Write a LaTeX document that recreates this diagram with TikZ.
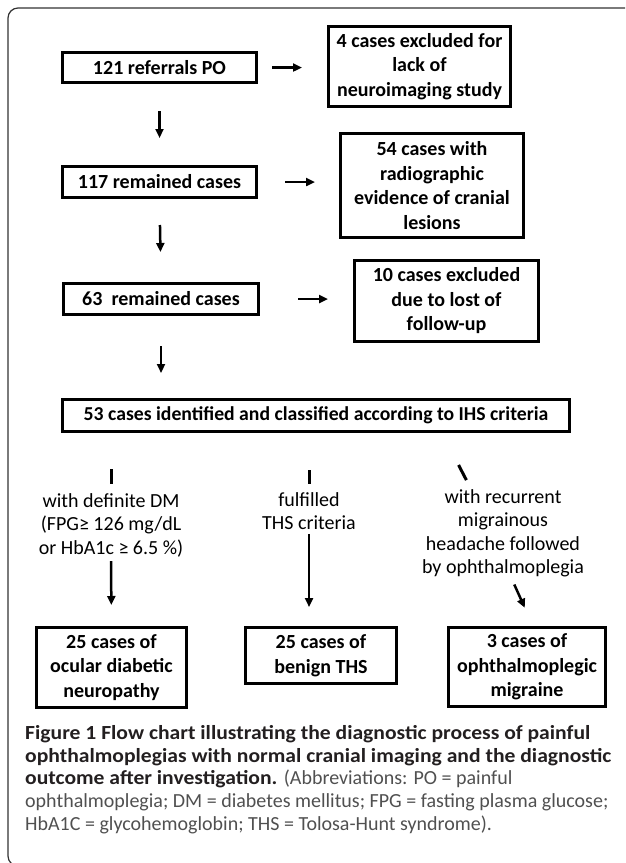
\documentclass[tikz,border=0pt]{standalone}
\usepackage{fontspec}
\setmainfont{Carlito}
\newfontfamily\capfont{Carlito}[FakeStretch=1.08]
\newfontfamily\abbfont{Carlito}
\usetikzlibrary{arrows.meta}
\definecolor{capgray}{HTML}{505050}
\definecolor{capdark}{HTML}{231F20}
\begin{document}
\begin{tikzpicture}[x=1pt,y=-1pt,
	box/.style={draw,line width=3pt,align=center,inner sep=0pt,font=\fontsize{20}{24.5}\selectfont\bfseries},
	lab/.style={align=center,inner sep=0pt,font=\fontsize{20}{23.5}\selectfont},
	arr/.style={line width=2.5pt,-{Triangle[length=9pt,width=8pt]}},
	stub/.style={line width=3pt}]
	\useasboundingbox (0,0) rectangle (625,863);
	\clip (0,0) rectangle (625,863);
	%frame
	\draw[line width=1.2pt,draw=black!80,rounded corners=10pt] (640,8) -- (8,8) -- (8,866) -- (60,866);
	%main column
	\node[box,minimum width=194pt,minimum height=30pt] (po) at (159.5,67.5) {121 referrals PO};
	\node[box,minimum width=194pt,minimum height=31pt] (rem1) at (159.5,182) {117 remained cases};
	\node[box,minimum width=195pt,minimum height=31pt] (rem2) at (161,299) {63~ remained cases};
	\node[box,minimum width=507pt,minimum height=32pt,font=\fontsize{19.7}{24.5}\selectfont\bfseries] (ihs) at (316,415.5) {53 cases identified and classified according to IHS criteria};
	%excluded
	\node[box,minimum width=182pt,minimum height=80pt] (ex1) at (419.5,66.5) {4 cases excluded for\\lack of\\neuroimaging study};
	\node[box,minimum width=183pt,minimum height=104pt] (ex2) at (432,185.5) {54 cases with\\radiographic\\evidence of cranial\\lesions};
	\node[box,minimum width=184pt,minimum height=81pt] (ex3) at (446.5,301) {10 cases excluded\\due to lost of\\follow-up};
	\draw[arr,shorten <=14pt,shorten >=25pt] (po.east) -- (po.east -| ex1.west);
	\draw[arr,shorten <=27pt,shorten >=24pt] (rem1.east) -- (rem1.east -| ex2.west);
	\draw[arr,shorten <=38pt,shorten >=25pt] (rem2.east) -- (rem2.east -| ex3.west);
	\draw[arr,shorten <=27pt,shorten >=27pt] (po.south) -- (rem1.north);
	\draw[arr,shorten <=26pt,shorten >=30pt] (rem1.south) -- (rem2.north);
	\draw[arr,shorten <=30pt,shorten >=25pt] (rem2.south) -- (rem2.south |- ihs.north);
	%branches
	\node[lab,anchor=north] (dm) at (111,493) {with definite DM\\(FPG≥ 126 mg/dL\\or HbA1c ≥ 6.5 \%)};
	\node[lab,anchor=north] (ths) at (309,492) {fulfilled\\THS criteria};
	\node[lab,anchor=north] (mig) at (503,489) {with recurrent\\migrainous\\headache followed\\by ophthalmoplegia};
	\node[box,minimum width=150pt,minimum height=80pt] (odn) at (111.5,667.5) {25 cases of\\ocular diabetic\\neuropathy};
	\node[box,minimum width=151pt,minimum height=56pt] (bths) at (321,655.5) {25 cases of\\benign THS};
	\node[box,minimum width=157pt,minimum height=79pt] (om) at (527,667) {3 cases of\\ophthalmoplegic\\migraine};
	\draw[stub,shorten <=36pt,shorten >=9pt] (ihs.south -| dm) -- (dm.north);
	\draw[stub,shorten <=37pt,shorten >=8pt] (ihs.south -| ths) -- (ths.north);
	\draw[stub,shorten <=36pt,shorten >=10pt] ([xshift=126pt]ihs.south) -- ([xshift=-32pt]mig.north);
	\draw[arr,shorten <=4pt,shorten >=21pt] (dm.south) -- (odn.north);
	\draw[arr,shorten <=4pt,shorten >=19pt] (ths.south) -- (ths.south |- bths.north);
	\draw[arr,shorten <=8pt,shorten >=20pt] ([xshift=8pt]mig.south) -- ([xshift=6pt]om.north);
	%caption
	\node[anchor=north west,align=left,inner sep=0pt,text=capdark,font=\capfont\fontsize{20}{22.8}\selectfont] (cap) at (25,725)
	{\textbf{Figure 1 Flow chart illustrating the diagnostic process of painful}\\
	\textbf{ophthalmoplegias with normal cranial imaging and the diagnostic}\\
	\textbf{outcome after investigation.} {\abbfont\color{capgray}(Abbreviations: PO = painful}\\
	{\abbfont\color{capgray}ophthalmoplegia; DM = diabetes mellitus; FPG = fasting plasma glucose;}\\
	{\abbfont\color{capgray}HbA1C = glycohemoglobin; THS = Tolosa-Hunt syndrome).}};
\end{tikzpicture}
\end{document}
